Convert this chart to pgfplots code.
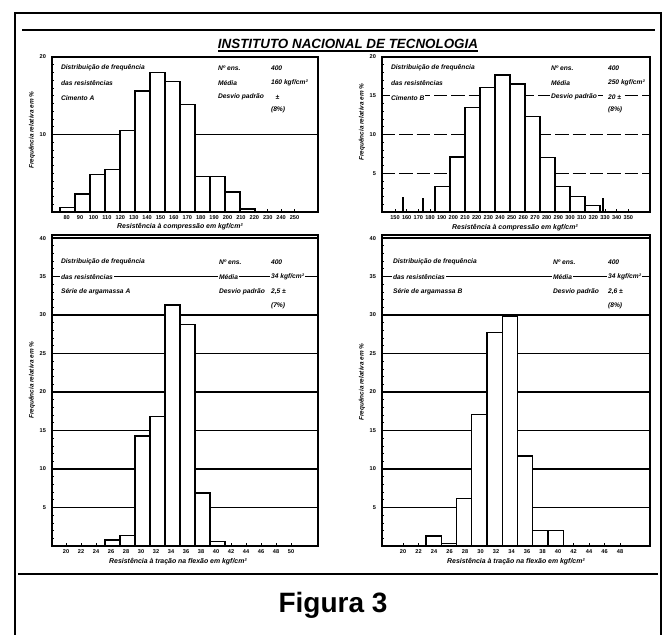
\documentclass[border=0pt]{standalone}
\usepackage{fontspec}
\setmainfont{Liberation Sans}
\usepackage{graphicx}
\usepackage{pgfplots}
\pgfplotsset{compat=1.18}
\newcommand\legfont{\fontsize{5}{6}\selectfont\bfseries\itshape}
\begin{document}
\begin{tikzpicture}
\useasboundingbox (0,0) rectangle (498pt,476.25pt);
\pgfplotsset{
  panel/.style={
    scale only axis, anchor=south west, xmin=0, ymin=0,
    axis line style={line width=1.2pt},
    tick style={black, line width=0.6pt},
    tick align=inside, major tick length=2pt, minor tick length=1.3pt,
    ticklabel style={font=\fontsize{4.2}{4.2}\selectfont\bfseries},
    /pgf/number format/assume math mode=true,
    xtick pos=bottom, ytick pos=left,
    xticklabel style={yshift=1pt},
    yticklabel style={xshift=-1pt},
    ymajorgrids,
  },
  bars/.style={ybar, bar width=15, fill=white, draw=black, line width=1.05pt},
}
% frame
\draw[line width=1.6pt] (11.25pt,0pt) -- (11.25pt,466.5pt) -- (495.75pt,466.5pt) -- (495.75pt,0pt);
\draw[line width=1.3pt] (16.5pt,453.75pt) -- (491.25pt,453.75pt);
\draw[line width=1.3pt] (13.5pt,45.75pt) -- (493.5pt,45.75pt);
\node[inner sep=0pt, anchor=base] at (261pt,440pt) {\resizebox{195pt}{7pt}{\bfseries\itshape INSTITUTO NACIONAL DE TECNOLOGIA}};
\draw[line width=1.3pt] (163.5pt,438pt) -- (358.5pt,438pt);
\node at (249.75pt,22.5pt) {\fontsize{21}{24}\selectfont\bfseries Figura 3};

% ---------- top left
\begin{axis}[panel, at={(39pt,317.25pt)}, width=199.5pt, height=116.25pt,
  xmax=266, ymax=20,
  ytick={0,10,20}, yticklabels={,10,20}, minor y tick num=9,
  major grid style={black, line width=0.7pt},
  xtick={14.7,28.1,41.5,54.9,68.3,81.7,95.1,108.5,121.9,135.3,148.7,162.1,175.5,188.9,202.3,215.7,229.1,242.5},
  xticklabels={80,90,100,110,120,130,140,150,160,170,180,190,200,210,220,230,240,250}]
\addplot[bars] coordinates {(15.5,0.6)(30.5,2.3)(45.5,4.8)(60.5,5.5)(75.5,10.5)(90.5,15.6)(105.5,18.0)(120.5,16.8)(135.5,13.9)(150.5,4.6)(165.5,4.6)(180.5,2.6)(195.5,0.4)};
\end{axis}

% ---------- top right
\begin{axis}[panel, at={(286.5pt,317.25pt)}, width=201pt, height=116.25pt,
  xmax=268, ymax=20,
  ytick={0,5,10,15,20}, yticklabels={,5,10,15,20}, minor y tick num=4,
  major grid style={black, line width=0.7pt, dash pattern=on 10pt off 3pt},
  xtick={13,24.67,36.33,48,59.67,71.33,83,94.67,106.33,118,129.67,141.33,153,164.67,176.33,188,199.67,211.33,223,234.67,246.33},
  xticklabels={150,160,170,180,190,200,210,220,230,240,250,260,270,280,290,300,310,320,330,340,350}]
\addplot[bars] coordinates {(60.5,3.3)(75.5,7.1)(90.5,13.5)(105.5,16.1)(120.5,17.7)(135.5,16.5)(150.5,12.3)(165.5,7.0)(180.5,3.3)(195.5,2.0)(210.5,0.8)};
\addplot[ybar, bar width=0.8, fill=black, draw=black, line width=0.7pt] coordinates {(21.3,1.9)(41.3,1.7)(221,1.7)};
\end{axis}

% ---------- bottom left
\begin{axis}[panel, at={(39pt,66.75pt)}, width=199.5pt, height=233.25pt,
  xmax=266, ymax=40.4,
  ytick={0,5,...,40}, yticklabels={,5,10,15,20,25,30,35,40}, minor y tick num=4,
  major grid style={black, line width=0.9pt},
  xtick={14,29,44,59,74,89,104,119,134,149,164,179,194,209,224,239},
  xticklabels={20,22,24,26,28,30,32,34,36,38,40,42,44,46,48,50}]
\addplot[bars] coordinates {(60.5,0.8)(75.5,1.4)(90.5,14.3)(105.5,16.8)(120.5,31.3)(135.5,28.8)(150.5,6.9)(165.5,0.6)};
\end{axis}

% ---------- bottom right
\begin{axis}[panel, at={(286.5pt,66.75pt)}, width=201pt, height=233.25pt,
  xmax=268, ymax=40.4,
  ytick={0,5,...,40}, yticklabels={,5,10,15,20,25,30,35,40}, minor y tick num=4,
  major grid style={black, line width=0.9pt},
  xtick={21,36.5,52,67.5,83,98.5,114,129.5,145,160.5,176,191.5,207,222.5,238},
  xticklabels={20,22,24,26,28,30,32,34,36,38,40,42,44,46,48}]
\addplot[bars, bar width=15.25] coordinates {(51.6,1.3)(66.9,0.3)(82.1,6.2)(97.4,17.1)(112.6,27.7)(127.9,29.9)(143.1,11.7)(158.4,2.0)(173.6,2.0)};
\end{axis}

% axis labels
\tikzset{yl/.style={rotate=90, font=\fontsize{4.8}{5}\selectfont\bfseries\itshape},
         xl/.style={font=\fontsize{5.2}{6}\selectfont\bfseries\itshape}}
\node[yl] at (24pt,378.75pt) {Frequência relativa em \%};
\node[yl] at (271.5pt,384.75pt) {Frequência relativa em \%};
\node[yl] at (24pt,191.25pt) {Frequência relativa em \%};
\node[yl] at (271.5pt,189.75pt) {Frequência relativa em \%};
\node[xl] at (135pt,306pt) {Resistência à compressão em kgf/cm²};
\node[xl] at (386.25pt,305.25pt) {Resistência à compressão em kgf/cm²};
\node[xl] at (133.5pt,54.75pt) {Resistência à tração na flexão em kgf/cm²};
\node[xl] at (387pt,54.75pt) {Resistência à tração na flexão em kgf/cm²};

% legend blocks
\tikzset{lt/.style={anchor=west, fill=white, inner sep=0.6pt, font=\legfont}}
% top left
\node[lt] at (45pt,425.25pt) {Distribuição de frequência};
\node[lt] at (45pt,414pt) {das resistências};
\node[lt] at (45pt,402.75pt) {Cimento A};
\node[lt] at (162.75pt,425.25pt) {Nº ens.};
\node[lt] at (162.75pt,414pt) {Média};
\node[lt] at (162.75pt,403.5pt) {Desvio padrão};
\node[lt] at (202.5pt,425.25pt) {400};
\node[lt] at (202.5pt,414pt) {160 kgf/cm²};
\node[lt] at (202.5pt,403.5pt) {\,\,\,\,±};
\node[lt] at (202.5pt,393.75pt) {(8\%)};
% top right
\node[lt] at (292.5pt,425.25pt) {Distribuição de frequência};
\node[lt] at (292.5pt,414pt) {das resistências};
\node[lt] at (292.5pt,402.75pt) {Cimento B};
\node[lt] at (412.5pt,425.25pt) {Nº ens.};
\node[lt] at (412.5pt,414pt) {Média};
\node[lt] at (412.5pt,403.5pt) {Desvio padrão};
\node[lt] at (455.25pt,425.25pt) {400};
\node[lt] at (455.25pt,414pt) {250 kgf/cm²};
\node[lt] at (455.25pt,403.5pt) {20 ±};
\node[lt] at (455.25pt,393.75pt) {(8\%)};
% bottom left
\node[lt] at (45pt,279.75pt) {Distribuição de frequência};
\node[lt] at (45pt,268.5pt) {das resistências};
\node[lt] at (45pt,257.25pt) {Série de argamassa A};
\node[lt] at (163.5pt,279.75pt) {Nº ens.};
\node[lt] at (163.5pt,268.5pt) {Média};
\node[lt] at (163.5pt,257.25pt) {Desvio padrão};
\node[lt] at (202.5pt,279.75pt) {400};
\node[lt] at (202.5pt,268.5pt) {34 kgf/cm²};
\node[lt] at (202.5pt,257.25pt) {2,5 ±};
\node[lt] at (202.5pt,246.75pt) {(7\%)};
% bottom right
\node[lt] at (294pt,279.75pt) {Distribuição de frequência};
\node[lt] at (294pt,268.5pt) {das resistências};
\node[lt] at (294pt,257.25pt) {Série de argamassa B};
\node[lt] at (414pt,279.75pt) {Nº ens.};
\node[lt] at (414pt,268.5pt) {Média};
\node[lt] at (414pt,257.25pt) {Desvio padrão};
\node[lt] at (455.25pt,279.75pt) {400};
\node[lt] at (455.25pt,268.5pt) {34 kgf/cm²};
\node[lt] at (455.25pt,257.25pt) {2,6 ±};
\node[lt] at (455.25pt,246.75pt) {(8\%)};
\end{tikzpicture}
\end{document}
